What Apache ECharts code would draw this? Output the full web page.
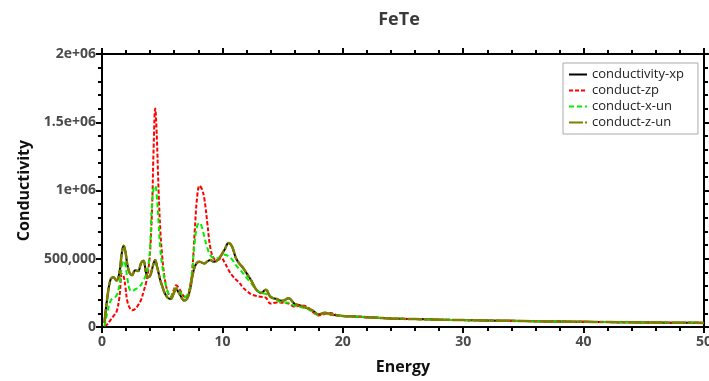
<!DOCTYPE html>
<html lang="en">
  <head>
    <meta charset="UTF-8" />
    <title>FeTe</title>
    <style>
      * {
        margin: 0;
        padding: 0;
      }
    </style>
  </head>
  <body>
    <div id="main" style="width: 709px; height: 381px;"></div>
    <script src="https://cdn.jsdelivr.net/npm/echarts@6/dist/echarts.min.js"></script>
    <script>
      // energy grid (shared by every curve)
      let energy = [
        0.2, 0.45, 0.7, 0.95, 1.2, 1.45, 1.65, 1.8, 1.95, 2.1, 2.3, 2.5, 2.75, 3.0,
        3.25, 3.45, 3.65, 3.85, 4.0, 4.15, 4.3, 4.42, 4.55, 4.7, 4.85, 5.0, 5.2,
        5.45, 5.7, 5.95, 6.15, 6.35, 6.55, 6.8, 7.05, 7.3, 7.5, 7.7, 7.9, 8.1, 8.3,
        8.5, 8.75, 9.0, 9.3, 9.6, 9.9, 10.2, 10.5, 10.8, 11.1, 11.4, 11.7, 12.0,
        12.4, 12.8, 13.2, 13.6, 14.0, 14.5, 15.0, 15.5, 16.0, 16.5, 17.0, 17.5,
        18.0, 18.5, 19.0, 19.5, 20, 21, 22, 23, 24, 25, 27, 29, 31, 33, 35, 37,
        39, 41, 43, 45, 47, 49, 50,
      ];

      // values in thousands
      let zunK = [
        30, 220, 345, 365, 340, 400, 545, 595, 550, 460, 395, 380, 415, 410, 470,
        485, 400, 365, 375, 420, 470, 490, 450, 395, 340, 300, 250, 215, 205, 245,
        280, 255, 225, 195, 205, 270, 370, 440, 472, 478, 472, 466, 480, 490, 478,
        490, 525, 570, 615, 590, 510, 465, 435, 395, 340, 275, 250, 272, 220, 205,
        192, 210, 170, 156, 140, 120, 92, 104, 92, 86, 80, 77, 72, 67, 63, 60, 56,
        52, 49, 46, 44, 41, 39, 37, 35, 33, 32, 31, 30,
      ];
      let xpK = zunK.slice();
      let zpK = [
        10, 20, 50, 80, 110, 220, 390, 370, 290, 190, 140, 122, 132, 160, 200, 260,
        320, 420, 560, 850, 1350, 1600, 1400, 1000, 700, 520, 360, 260, 225, 270,
        305, 290, 260, 225, 215, 290, 420, 700, 950, 1035, 1010, 940, 760, 580,
        500, 490, 505, 470, 420, 379, 350, 325, 290, 265, 240, 228, 222, 215, 172,
        180, 178, 172, 148, 158, 150, 110, 85, 95, 102, 88, 80, 77, 72, 67, 63, 60,
        56, 52, 49, 46, 44, 41, 39, 37, 35, 33, 32, 31, 30,
      ];
      let xunK = [
        5, 110, 190, 215, 228, 310, 450, 485, 450, 360, 275, 262, 275, 290, 310,
        345, 380, 450, 600, 900, 1020, 1035, 960, 760, 560, 450, 350, 260, 218,
        260, 285, 270, 250, 218, 230, 290, 430, 620, 740, 763, 730, 660, 580, 525,
        505, 503, 520, 530, 518, 495, 455, 425, 395, 362, 320, 275, 250, 243, 225,
        195, 180, 178, 155, 146, 135, 110, 85, 100, 95, 86, 80, 77, 72, 67, 63, 60,
        56, 52, 49, 46, 44, 41, 39, 37, 35, 33, 32, 31, 30,
      ];

      let yTickText = { 0: "0", 500000: "500,000", 1000000: "1e+06", 1500000: "1.5e+06", 2000000: "2e+06" };

      function pairs(vals) {
        let res = [];
        for (let i = 0; i < energy.length; i++) {
          res.push([energy[i], vals[i] * 1000]);
        }
        return res;
      }

      let fontName = "Open Sans";
      let labelStyle = { color: "#4a4a4a", fontWeight: "bold", fontSize: 14, fontFamily: fontName };
      let lineBlack = { color: "#000", width: 2 };

      // shared frame axis settings
      function frameAxis(extra) {
        let base = {
          type: "value",
          axisLine: { onZero: false, lineStyle: lineBlack },
          axisTick: { length: 6, lineStyle: lineBlack },
          minorTick: { show: true, splitNumber: 5, length: 4, lineStyle: lineBlack },
          splitLine: { show: false },
          minorSplitLine: { show: false },
        };
        return Object.assign(base, extra);
      }

      function draw() {
        let myEcharts = echarts.init(document.getElementById("main"));
        let option = {
          animation: false,
          backgroundColor: "#fff",
          title: {
            text: "FeTe",
            left: 394,
            top: 6,
            textAlign: "center",
            textStyle: { color: "#3a3a3a", fontSize: 18, fontWeight: "bold", fontFamily: fontName },
          },
          grid: { left: 102, right: 5, top: 54, bottom: 54, outerBoundsMode: "none" },
          legend: {
            orient: "vertical",
            left: 563,
            top: 63,
            padding: [5, 14, 5, 5],
            itemGap: 3,
            itemWidth: 18,
            itemHeight: 10,
            borderColor: "#aaa",
            borderWidth: 1,
            backgroundColor: "#fff",
            itemStyle: { opacity: 0 },
            textStyle: { color: "#222", fontSize: 13, fontFamily: fontName },
            data: ["conductivity-xp", "conduct-zp", "conduct-x-un", "conduct-z-un"],
          },
          xAxis: [
            frameAxis({
              min: 0,
              max: 50,
              interval: 10,
              name: "Energy",
              nameLocation: "middle",
              nameGap: 32,
              nameTextStyle: { color: "#111", fontWeight: "bold", fontSize: 16, fontFamily: fontName },
              axisLabel: labelStyle,
            }),
            frameAxis({
              position: "top",
              min: 0,
              max: 50,
              interval: 10,
              axisLabel: { show: false },
            }),
          ],
          yAxis: [
            frameAxis({
              min: 0,
              max: 2000000,
              interval: 500000,
              name: "Conductivity",
              nameLocation: "middle",
              nameGap: 62,
              nameTextStyle: { color: "#111", fontWeight: "bold", fontSize: 16, fontFamily: fontName },
              axisLabel: Object.assign({}, labelStyle, {
                margin: 6,
                formatter: function (v) {
                  return yTickText[v] || "";
                },
              }),
            }),
            frameAxis({
              position: "right",
              min: 0,
              max: 2000000,
              interval: 500000,
              axisLabel: { show: false },
            }),
          ],
          series: [
            {
              name: "conductivity-xp",
              type: "line",
              smooth: 0.4,
              symbol: "none",
              color: "#000",
              lineStyle: { color: "#000", width: 2 },
              data: pairs(xpK),
              z: 2,
            },
            {
              name: "conduct-zp",
              type: "line",
              smooth: 0.4,
              symbol: "none",
              color: "#ff0000",
              lineStyle: { color: "#ff0000", width: 2, type: [4, 2] },
              data: pairs(zpK),
              z: 3,
            },
            {
              name: "conduct-x-un",
              type: "line",
              smooth: 0.4,
              symbol: "none",
              color: "#00ee00",
              lineStyle: { color: "#00ee00", width: 2, type: [5, 3] },
              data: pairs(xunK),
              z: 4,
            },
            {
              name: "conduct-z-un",
              type: "line",
              smooth: 0.4,
              symbol: "none",
              color: "#808000",
              lineStyle: { color: "#808000", width: 2.5, type: [14, 2, 4, 2] },
              data: pairs(zunK),
              z: 5,
            },
          ],
        };
        myEcharts.setOption(option);
      }
      draw();
    </script>
  </body>
</html>
